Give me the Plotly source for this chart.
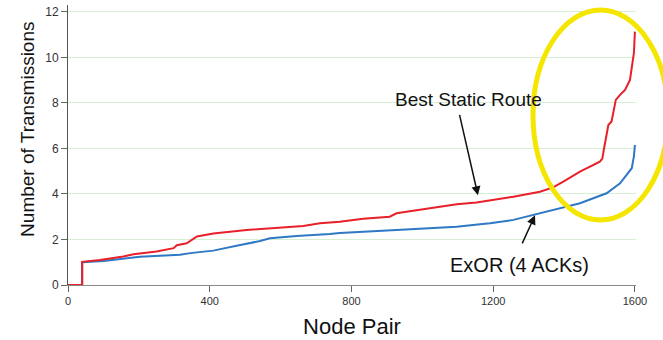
import plotly.graph_objects as go

# Data
static_x = [0, 40, 40, 90, 156, 185, 250, 298, 307, 335, 364, 410, 504, 598, 664, 711, 767,
            833, 908, 927, 1021, 1097, 1153, 1191, 1257, 1332, 1369, 1398, 1445, 1501, 1508,
            1512, 1518, 1525, 1534, 1540, 1546, 1558, 1572, 1586, 1593, 1597, 1600]
static_y = [0, 0, 1.02, 1.1, 1.25, 1.35, 1.47, 1.62, 1.75, 1.83, 2.13, 2.26, 2.42, 2.52, 2.59,
            2.71, 2.78, 2.91, 3.0, 3.15, 3.37, 3.55, 3.62, 3.71, 3.88, 4.10, 4.29, 4.54, 4.98,
            5.42, 5.55, 5.93, 6.5, 7.03, 7.18, 7.6, 8.13, 8.35, 8.57, 9.01, 9.75, 10.18, 11.13]

exor_x = [0, 40, 40, 100, 203, 316, 345, 410, 486, 504, 542, 570, 645, 739, 767, 927, 1097,
          1163, 1191, 1257, 1351, 1445, 1520, 1558, 1591, 1597, 1600]
exor_y = [0, 0, 1.0, 1.05, 1.24, 1.33, 1.40, 1.51, 1.76, 1.81, 1.93, 2.05, 2.15, 2.24, 2.28,
          2.42, 2.56, 2.67, 2.71, 2.86, 3.22, 3.59, 4.03, 4.47, 5.13, 5.64, 6.15]

x_ticks = [0, 400, 800, 1200, 1600]
y_ticks = [0, 2, 4, 6, 8, 10, 12]

fig = go.Figure()
fig.add_trace(go.Scatter(x=exor_x, y=exor_y, mode="lines", name="ExOR (4 ACKs)",
                         line=dict(color="#2e78c6", width=2)))
fig.add_trace(go.Scatter(x=static_x, y=static_y, mode="lines", name="Best Static Route",
                         line=dict(color="#e8202a", width=2)))

font_family = "Liberation Sans, Arial, sans-serif"

fig.update_layout(
    width=663, height=340,
    margin=dict(l=68, r=27, t=5, b=55),
    paper_bgcolor="white", plot_bgcolor="white",
    showlegend=False,
    font=dict(family=font_family, color="#222"),
    xaxis=dict(range=[0, 1603], tickvals=x_ticks, ticks="outside", ticklen=6,
               tickcolor="#666", showgrid=False, zeroline=False, showline=True,
               linecolor="#888", linewidth=1, tickfont=dict(size=11, color="#333"),
               automargin=False,
               title=dict(text="Node Pair", font=dict(size=22, color="#111"), standoff=12)),
    yaxis=dict(range=[0, 12.3], tickvals=y_ticks, ticks="outside", ticklen=6,
               tickcolor="#666", showgrid=True, gridcolor="#d6efd2", gridwidth=1,
               zeroline=False, showline=True, linecolor="#555", linewidth=1,
               tickfont=dict(size=12, color="#333"), automargin=False),
)

# Y-axis title as an annotation (placed slightly above centre as in the reference)
fig.add_annotation(x=-0.0704, y=0.554, xref="paper", yref="paper",
                   xanchor="center", yanchor="middle",
                   text="Number of Transmissions", textangle=-90, showarrow=False,
                   font=dict(size=19, color="#111"))

fig.add_annotation(x=1157, y=3.94, ax=1104, ay=7.54, xref="x", yref="y", axref="x", ayref="y",
                   text="", showarrow=True, arrowhead=2, arrowsize=1.2, arrowwidth=1.5,
                   arrowcolor="#111")
fig.add_annotation(x=1129, y=8.13, xref="x", yref="y", text="Best Static Route",
                   showarrow=False, font=dict(size=19, color="#111"))
fig.add_annotation(x=1318, y=3.06, ax=1280, ay=1.76, xref="x", yref="y", axref="x", ayref="y",
                   text="", showarrow=True, arrowhead=2, arrowsize=1.2, arrowwidth=1.5,
                   arrowcolor="#111")
fig.add_annotation(x=1273, y=0.88, xref="x", yref="y", text="ExOR (4 ACKs)",
                   showarrow=False, font=dict(size=20, color="#111"))

# Yellow ellipse highlight (paper coords so it is not clipped)
fig.add_shape(type="circle", xref="paper", yref="paper",
              x0=(533 - 68) / 568, x1=(668 - 68) / 568,
              y0=(285 - 220) / 280, y1=(285 - 10) / 280,
              line=dict(color="#f4e600", width=5), fillcolor="rgba(0,0,0,0)")

fig.write_html("out.html", post_script="document.body.style.margin='0';",
               config={"displayModeBar": False})
